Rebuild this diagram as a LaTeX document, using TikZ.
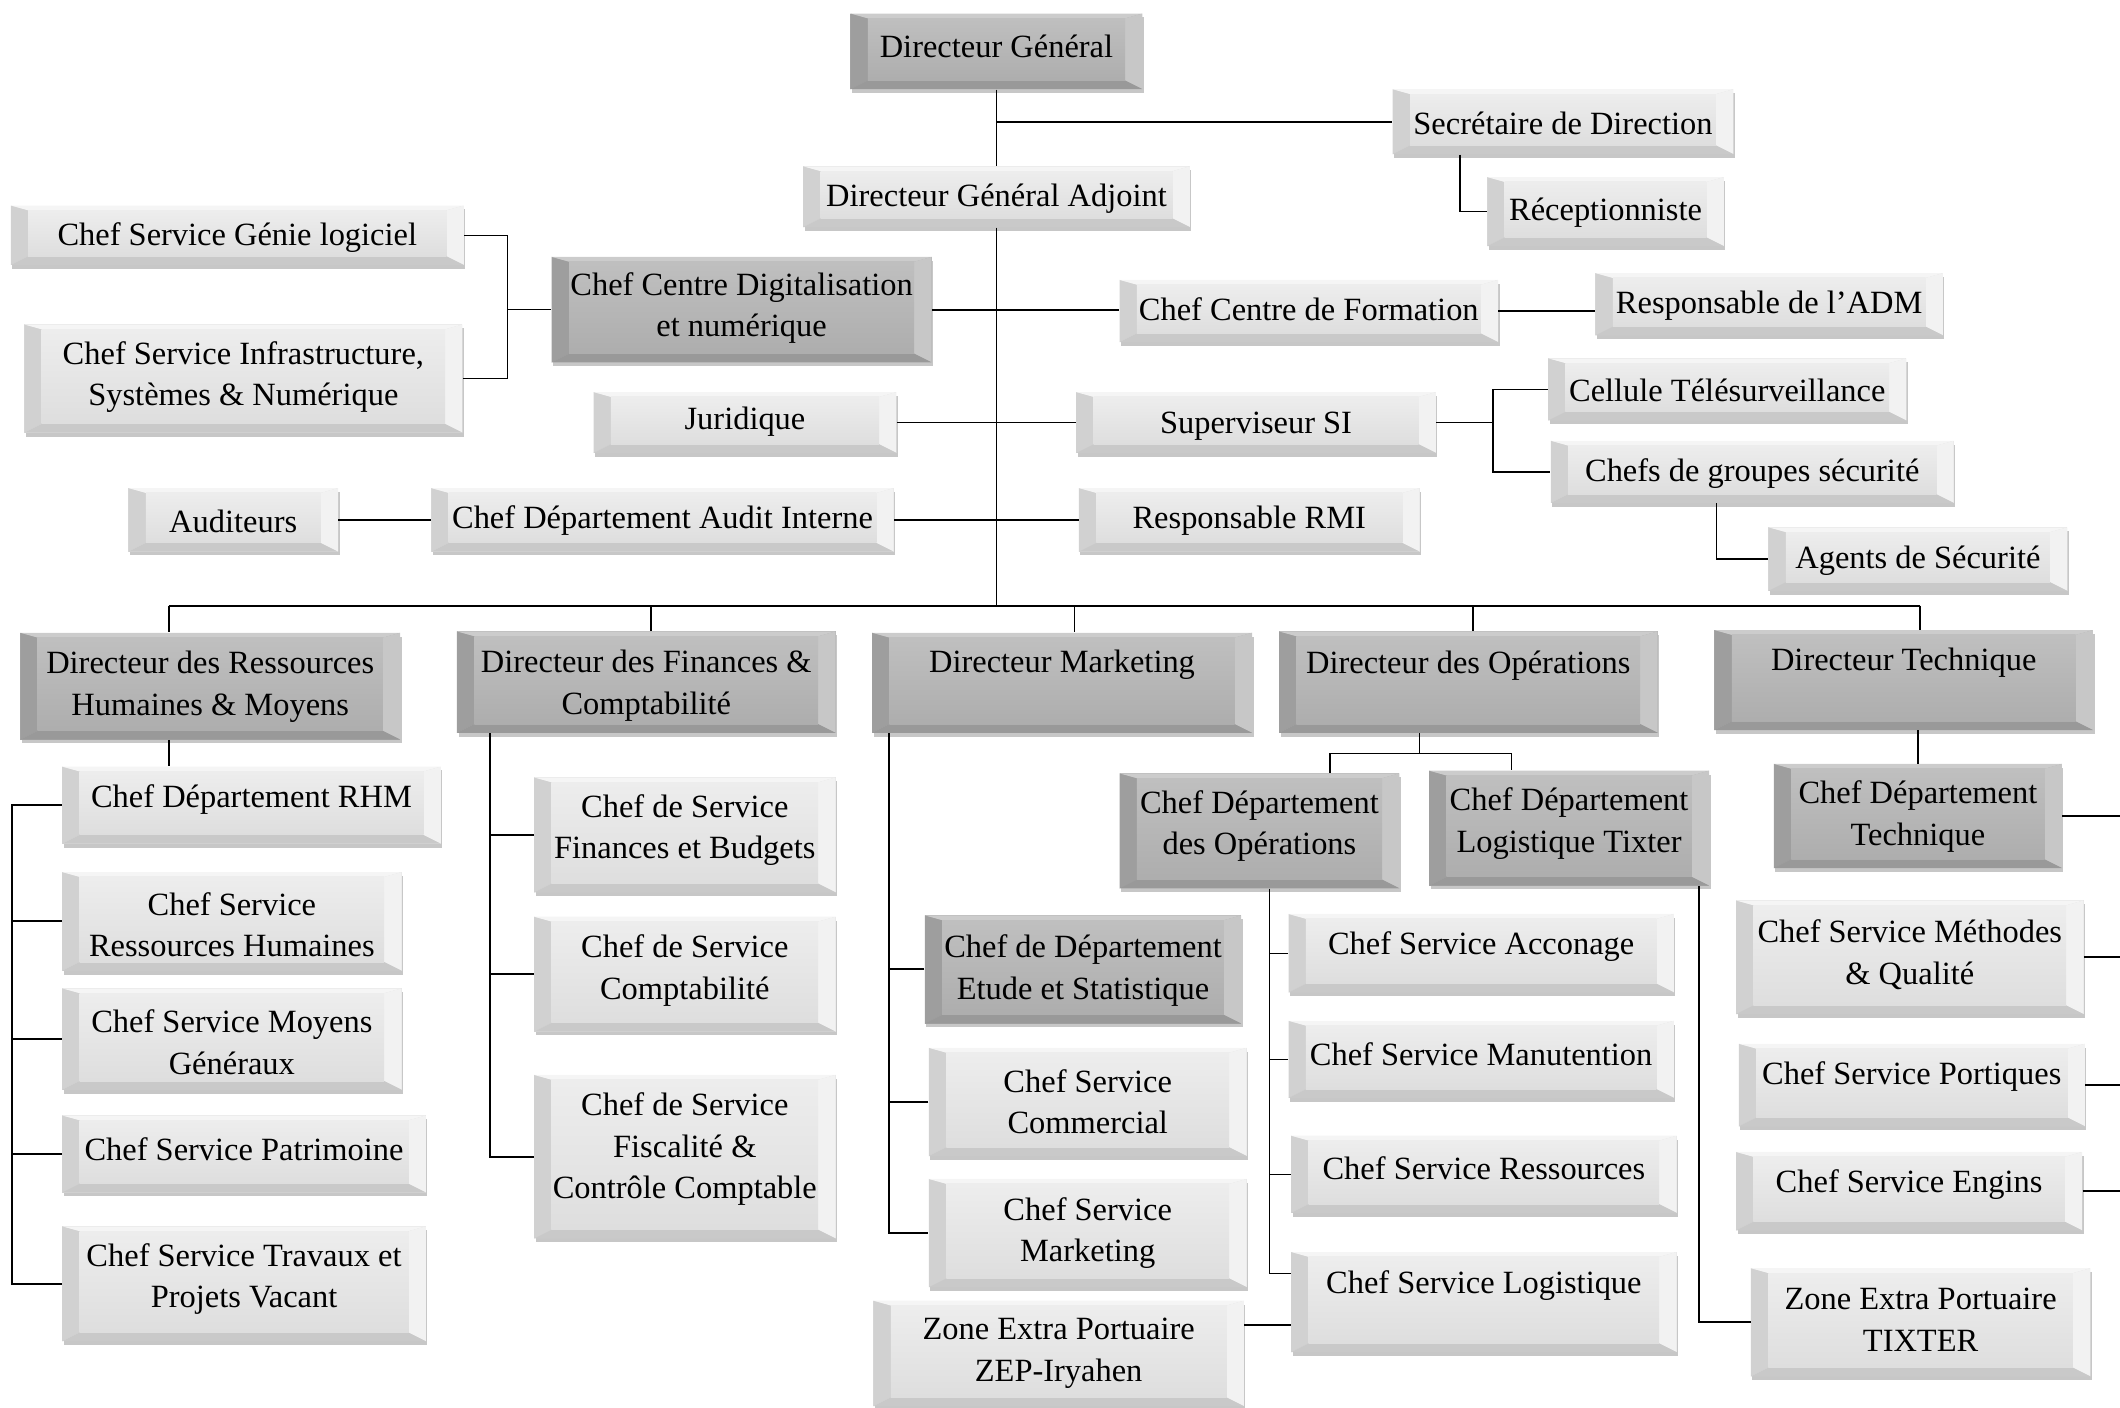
\documentclass[tikz,border=0pt]{standalone}
\usepackage{fontspec}
\setmainfont{Liberation Serif}
\usetikzlibrary{calc,shadows}

\newcommand\bevelpic[6]{%
  \coordinate (pA) at (path picture bounding box.south west);
  \coordinate (pC) at (path picture bounding box.north east);
  \coordinate (pB) at (pA -| pC);
  \coordinate (pD) at (pA |- pC);
  \coordinate (iA) at ($(pA)+(9pt,4.5pt)$);
  \coordinate (iB) at ($(pB)+(-9pt,4.5pt)$);
  \coordinate (iC) at ($(pC)+(-9pt,-2.5pt)$);
  \coordinate (iD) at ($(pD)+(9pt,-2.5pt)$);
  \fill[#1] (pA)--(pD)--(iD)--(iA)--cycle;
  \fill[#2] (pD)--(pC)--(iC)--(iD)--cycle;
  \fill[#3] (pC)--(pB)--(iB)--(iC)--cycle;
  \fill[#4] (pB)--(pA)--(iA)--(iB)--cycle;
  \shade[top color=#5,bottom color=#6] (iA) rectangle (iC);
}

\definecolor{lL}{gray}{0.82}
\definecolor{lT}{gray}{0.96}
\definecolor{lR}{gray}{0.95}
\definecolor{lB}{gray}{0.79}
\definecolor{lIT}{gray}{0.93}
\definecolor{lIB}{gray}{0.87}
\definecolor{dL}{gray}{0.62}
\definecolor{dT}{gray}{0.80}
\definecolor{dR}{gray}{0.78}
\definecolor{dB}{gray}{0.60}
\definecolor{dIT}{gray}{0.75}
\definecolor{dIB}{gray}{0.68}

\tikzset{
  ln/.style={line width=1pt, black},
  thinln/.style={line width=0.7pt, black},
  txt/.style={font=\fontsize{16.8}{21.5}\selectfont, align=center, inner sep=0pt},
  lbox/.style={draw=none, fill=lIB, inner sep=0pt,
    drop shadow={shadow xshift=0.8pt, shadow yshift=-2pt, fill=black, opacity=0.22},
    path picture={\bevelpic{lL}{lT}{lR}{lB}{lIT}{lIB}}},
  dbox/.style={draw=none, fill=dIB, inner sep=0pt,
    drop shadow={shadow xshift=0.8pt, shadow yshift=-2pt, fill=black, opacity=0.22},
    path picture={\bevelpic{dL}{dT}{dR}{dB}{dIT}{dIB}}},
}

% name, style, x1, y1, x2, y2, text y, text
\newcommand\obox[8]{%
  \node[#2, minimum width={(#5-#3)*0.7pt}, minimum height={(#6-#4)*0.7pt}]
     (#1) at ({(#3+#5)/2},{(#4+#6)/2}) {};
  \node[txt] (#1-t) at ({(#3+#5)/2},{#7+2}) {#8};
}

\begin{document}
\begin{tikzpicture}[x=0.7pt,y=-0.7pt]
\useasboundingbox (0,0) rectangle (1568,1041);

% ---------- top part ----------
\obox{dg}{dbox}{629}{10}{845}{66}{32}{Directeur Général}
\obox{sec}{lbox}{1030}{66}{1282}{114}{89}{Secrétaire de Direction}
\obox{dga}{lbox}{594}{123}{880}{168}{145}{Directeur Général Adjoint}
\obox{rec}{lbox}{1100}{131}{1275}{182}{155}{Réceptionniste}
\obox{genie}{lbox}{8}{152}{343}{196}{174}{Chef Service Génie logiciel}
\obox{digit}{dbox}{408}{190}{689}{268}{226}{Chef Centre Digitalisation\\et numérique}
\obox{infra}{lbox}{18}{240}{342}{320}{277}{Chef Service Infrastructure,\\Systèmes \& Numérique}
\obox{form}{lbox}{828}{207}{1108}{253}{227}{Chef Centre de Formation}
\obox{adm}{lbox}{1180}{202}{1437}{248}{224}{Responsable de l’ADM}
\obox{cell}{lbox}{1145}{265}{1410}{311}{287}{Cellule Télésurveillance}
\obox{jur}{lbox}{439}{290}{663}{335}{310}{Juridique}
\obox{sup}{lbox}{796}{290}{1062}{335}{313}{Superviseur SI}
\obox{chefs}{lbox}{1147}{326}{1445}{372}{348}{Chefs de groupes sécurité}
\obox{aud}{lbox}{95}{361}{250}{408}{384}{Auditeurs}
\obox{audit}{lbox}{319}{361}{661}{408}{383}{Chef Département Audit Interne}
\obox{rmi}{lbox}{798}{361}{1050}{408}{383}{Responsable RMI}
\obox{agents}{lbox}{1308}{390}{1529}{437}{413}{Agents de Sécurité}

% ---------- directors ----------
\obox{drh}{dbox}{15}{468}{296}{547}{506}{Directeur des Ressources\\Humaines \& Moyens}
\obox{dfin}{dbox}{338}{467}{618}{542}{505}{Directeur des Finances \&\\Comptabilité}
\obox{dmkt}{dbox}{645}{468}{926}{542}{490}{Directeur Marketing}
\obox{dops}{dbox}{946}{467}{1226}{542}{490}{Directeur des Opérations}
\obox{dtech}{dbox}{1268}{466}{1548}{540}{488}{Directeur Technique}

% ---------- RH ----------
\obox{rhm}{lbox}{46}{567}{326}{624}{589}{Chef Département RHM}
\obox{csrh}{lbox}{46}{645}{297}{718}{682}{Chef Service\\Ressources Humaines}
\obox{moy}{lbox}{46}{731}{297}{806}{769}{Chef Service Moyens\\Généraux}
\obox{pat}{lbox}{46}{825}{315}{882}{848}{Chef Service Patrimoine}
\obox{trav}{lbox}{46}{907}{315}{992}{944}{Chef Service Travaux et\\Projets Vacant}

% ---------- Finances ----------
\obox{cfb}{lbox}{395}{575}{618}{660}{612}{Chef de Service\\Finances et Budgets}
\obox{ccpt}{lbox}{395}{678}{618}{763}{716}{Chef de Service\\Comptabilité}
\obox{cfisc}{lbox}{395}{795}{618}{916}{848}{Chef de Service\\Fiscalité \&\\Contrôle Comptable}

% ---------- Marketing ----------
\obox{etude}{dbox}{684}{677}{918}{757}{716}{Chef de Département\\Etude et Statistique}
\obox{comm}{lbox}{687}{775}{922}{855}{813}{Chef Service\\Commercial}
\obox{mkt}{lbox}{687}{872}{922}{952}{910}{Chef Service\\Marketing}
\obox{zep}{lbox}{646}{962}{920}{1040}{999}{Zone Extra Portuaire\\ZEP-Iryahen}

% ---------- Operations ----------
\obox{cdo}{dbox}{828}{572}{1035}{657}{609}{Chef Département\\des Opérations}
\obox{cdl}{dbox}{1057}{570}{1264}{655}{607}{Chef Département\\Logistique Tixter}
\obox{acc}{lbox}{953}{676}{1238}{734}{698}{Chef Service Acconage}
\obox{man}{lbox}{953}{755}{1238}{812}{778}{Chef Service Manutention}
\obox{res}{lbox}{955}{840}{1240}{897}{862}{Chef Service Ressources}
\obox{log}{lbox}{955}{926}{1240}{1000}{949}{Chef Service Logistique}
\obox{zt}{lbox}{1295}{938}{1546}{1018}{974}{Zone Extra Portuaire\\TIXTER}

% ---------- Technique ----------
\obox{cdt}{dbox}{1312}{565}{1525}{642}{602}{Chef Département\\Technique}
\obox{meth}{lbox}{1284}{666}{1541}{750}{704}{Chef Service Méthodes\\\& Qualité}
\obox{port}{lbox}{1286}{772}{1542}{833}{794}{Chef Service Portiques}
\obox{eng}{lbox}{1284}{852}{1540}{910}{874}{Chef Service Engins}

% ================= connectors =================
\draw[ln] (dg.south) -- (dga.north);
\draw[ln] (dg.south |- sec.west) -- (sec.west);
\draw[thinln] ($(sec.south west)+(50,0)$) |- (rec.west);
\draw[thinln] (genie.east) -- ++(32,0) |- (digit.west);
\draw[thinln] (infra.east) -- ++(33,0) |- (digit.west);
\draw[ln] (digit.east) -- (digit.east -| form.west);
\draw[ln] (form.east) -- (form.east -| adm.west);
\draw[ln] (jur.east) -- (sup.west);
\draw[thinln] (sup.east) -- ++(42,0) coordinate (sb) |- (cell.west);
\draw[thinln] (sb) |- (chefs.west);
\draw[thinln] ($(chefs.south west)+(123,0)$) |- (agents.west);
\draw[ln] (aud.east) -- (audit.west);
\draw[ln] (audit.east) -- (rmi.west);

% trunk and bus
\coordinate (bus) at (737,448);
\draw[ln] (dga.south) -- (bus);
\coordinate (b1) at ($(drh.north west)+(110,0)$);
\coordinate (b2) at ($(dfin.north west)+(144,0)$);
\coordinate (b3) at ($(dmkt.north west)+(150,0)$);
\coordinate (b4) at ($(dops.north west)+(144,0)$);
\coordinate (b5) at ($(dtech.north west)+(152,0)$);
\draw[ln] (b1 |- bus) -- (b5 |- bus);
\foreach \b in {b1,b2,b3,b4,b5} \draw[ln] (\b |- bus) -- (\b);

% RH
\draw[ln] (b1 |- drh.south) -- (b1 |- rhm.north);
\coordinate (rb) at (9,600);
\draw[ln] (rhm.west) -- (rhm.west -| rb) -- (trav.west -| rb) -- (trav.west);
\foreach \n in {csrh,moy,pat} \draw[ln] (\n.west) -- (\n.west -| rb);

% Finances
\coordinate (fv) at ($(dfin.south west)+(25,0)$);
\draw[ln] (fv) -- (fv |- cfisc.west) -- (cfisc.west);
\foreach \n in {cfb,ccpt} \draw[ln] (\n.west) -- (\n.west -| fv);

% Marketing
\coordinate (mv) at ($(dmkt.south west)+(13,0)$);
\draw[ln] (mv) -- (mv |- mkt.west) -- (mkt.west);
\foreach \n in {etude,comm} \draw[ln] (\n.west) -- (\n.west -| mv);
\coordinate (zz) at ($(zep.north east)+(0,18)$);
\draw[ln] (zz) -- (zz -| log.west);

% Operations
\coordinate (ob) at ($(dops.south west)+(104,0)$);
\coordinate (o1) at ($(cdo.north west)+(156,0)$);
\coordinate (o2) at ($(cdl.north west)+(61,0)$);
\draw[thinln] (ob) -- ++(0,15) coordinate (oh);
\draw[thinln] (o1) |- (oh) -| (o2);
\coordinate (ov) at ($(cdo.south west)+(111,0)$);
\coordinate (lg) at ($(log.north west)+(0,16)$);
\draw[thinln] (ov) |- (lg);
\foreach \n in {acc,man,res} \draw[thinln] (\n.west) -- (\n.west -| ov);
\draw[ln] ($(cdl.south east)+(-8,0)$) |- (zt.west);

% Technique
\draw[ln] (cdt.north |- dtech.south) -- (cdt.north);
\coordinate (re) at (1568,600);
\foreach \n in {cdt,meth,port,eng} \draw[ln] (\n.east) -- (\n.east -| re);
\end{tikzpicture}
\end{document}
